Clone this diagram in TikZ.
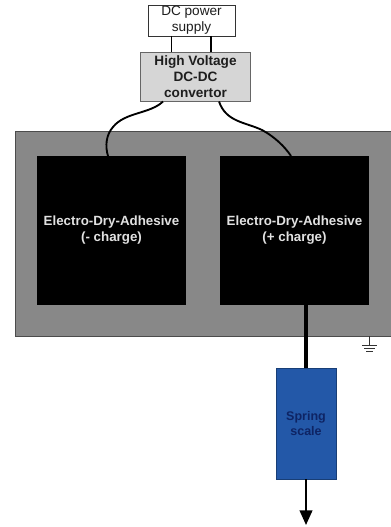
\documentclass[tikz,border=0pt]{standalone}
\usepackage{fontspec}
\setmainfont{Liberation Sans}
\usetikzlibrary{arrows.meta}
\tikzset{
  box/.style={draw=#1,line width=0.6pt,inner sep=0pt,align=center},
  adhesive/.style={fill=black,text=adh,inner sep=0pt,minimum width=111.75pt,minimum height=111.75pt,align=center,font=\fontsize{10}{12}\selectfont\bfseries},
  wire/.style={black,line width=1.4pt},
  groundline/.style={black!80,line width=0.5pt},
}
\definecolor{panel}{RGB}{136,136,136}
\definecolor{conv}{RGB}{214,214,214}
\definecolor{scale}{RGB}{35,88,168}
\definecolor{scaletext}{RGB}{14,36,100}
\definecolor{txt}{RGB}{30,30,30}
\definecolor{adh}{RGB}{225,225,225}
\begin{document}
\begin{tikzpicture}[x=0.75pt,y=-0.75pt]
\useasboundingbox (0,0) rectangle (391,527);
\fill[white] (0,0) rectangle (391,527);
% panel
\path[fill=panel,draw=black!70,line width=0.5pt] (15,131) -- (392,131) -- (392,336) -- (15,336) -- cycle;
\node[box=black!80,fill=white,text=txt,minimum width=65.25pt,minimum height=23.25pt,font=\fontsize{10.2}{12}\selectfont] (ps) at (191.5,20.5) {DC power\\supply};
\node[box=black!60,fill=conv,text=txt,minimum width=82.5pt,minimum height=36.75pt,font=\fontsize{10.2}{12}\selectfont\bfseries] (hv) at (195.5,76.5) {High Voltage\\DC-DC\\convertor};
\node[adhesive] (neg) at (111.5,230.5) {Electro-Dry-Adhesive\\(- charge)};
\node[adhesive] (pos) at (294.5,230.5) {Electro-Dry-Adhesive\\(+ charge)};
\node[box=scale!70!black,fill=scale,text=scaletext,minimum width=45pt,minimum height=83.25pt,font=\fontsize{9.4}{11.5}\selectfont\bfseries] (sp) at (306,423.5) {Spring\\scale};
% connectors
\coordinate (psL) at (171.5,36);
\coordinate (psR) at (211,36);
\draw[wire] (psL) -- (psL |- hv.north);
\draw[wire] (psR) -- (psR |- hv.north);
\coordinate (hvL) at (163,101.5);
\coordinate (hvR) at (219,101.5);
\coordinate (negT) at (108,156);
\coordinate (posT) at (291,156);
\draw[wire] (hvL) .. controls (150,114) and (125,112) .. (113,127) .. controls (106,135) and (105,146) .. (negT);
\draw[wire] (hvR) .. controls (226,122) and (245,122) .. (262,130) .. controls (275,137) and (285,147) .. (posT);
\coordinate (posB) at (306,305);
\draw[black,line width=3pt] (posB) -- (posB |- sp.north);
\coordinate (arrowEnd) at (306,525);
\draw[black,line width=1.5pt,-{Triangle[length=11pt,width=9.5pt]}] (sp.south) -- (arrowEnd);
% ground
\coordinate (g) at (369,336);
\coordinate (g1) at (369,345.5);
\draw[groundline] (g) -- (g1);
\draw[groundline] (362,345.5) -- (377,345.5);
\draw[groundline] (364,348.5) -- (375,348.5);
\draw[groundline] (366,351) -- (373,351);
\end{tikzpicture}
\end{document}
